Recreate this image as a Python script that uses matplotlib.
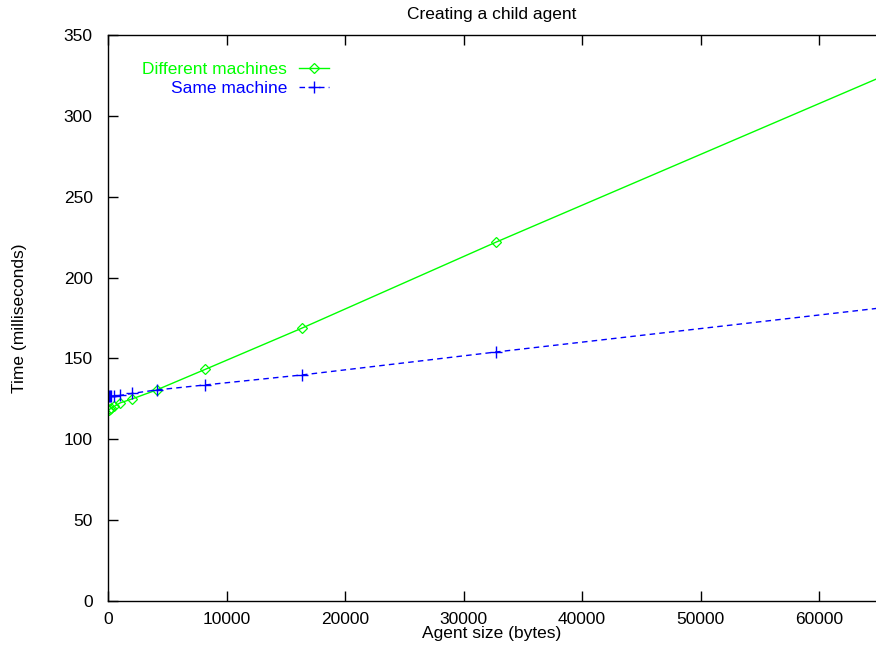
import matplotlib
matplotlib.use("Agg")
import matplotlib.pyplot as plt

plt.rcParams['font.family'] = ['Liberation Sans', 'DejaVu Sans']

# agent size in bytes
sizes = [64, 128, 256, 512, 1024, 2048, 4096, 8192, 16384, 32768, 65536]
# time in ms
different_machines = [118.0, 118.5, 119.2, 120.3, 122.5, 125.0, 130.5, 143.2, 168.8, 222.0, 325.0]
same_machine = [126.5, 126.6, 126.7, 126.8, 127.1, 128.4, 130.5, 133.6, 139.8, 154.0, 181.5]

xticks = [0, 10000, 20000, 30000, 40000, 50000, 60000]
yticks = [0, 50, 100, 150, 200, 250, 300, 350]

fig = plt.figure(figsize=(8.76, 6.5), dpi=100)
ax = fig.add_axes([108 / 876, 49 / 650, 768 / 876, 566 / 650])

ax.plot(sizes, different_machines, color='#00ff00', lw=1, marker='D', ms=5.5,
        mfc='none', mec='#00ff00', mew=0.9, label='Different machines')
ax.plot(sizes, same_machine, color='#0000ff', lw=1, ls=(0, (4, 3)), marker='+',
        ms=8, mew=1, label='Same machine')

ax.set_xlim(0, 64800)
ax.set_ylim(0, 350)
ax.set_xticks(xticks)
ax.set_yticks(yticks)
ax.tick_params(direction='in', top=True, right=False, length=7, width=1,
               labelsize=12.5)
ax.tick_params(axis='y', pad=11)
ax.tick_params(axis='x', pad=8)
ax.spines['right'].set_visible(False)
for s in ['left', 'bottom', 'top']:
    ax.spines[s].set_linewidth(1)

ax.set_xlabel('Agent size (bytes)', fontsize=12.5, labelpad=-1)
ax.set_ylabel('Time (milliseconds)', fontsize=12.5, labelpad=26)
fig.text(492 / 876, 1 - 14 / 650, 'Creating a child agent', ha='center',
         va='center', fontsize=12.5)

leg = ax.legend(loc='upper left', bbox_to_anchor=(0.024, 0.98), frameon=False,
                markerfirst=False, fontsize=12.5, handlelength=1.7,
                labelspacing=0.2, handletextpad=0.7, labelcolor='linecolor')
for t in leg.get_texts():
    t.set_ha('right')

fig.savefig('out.png', dpi=100)
